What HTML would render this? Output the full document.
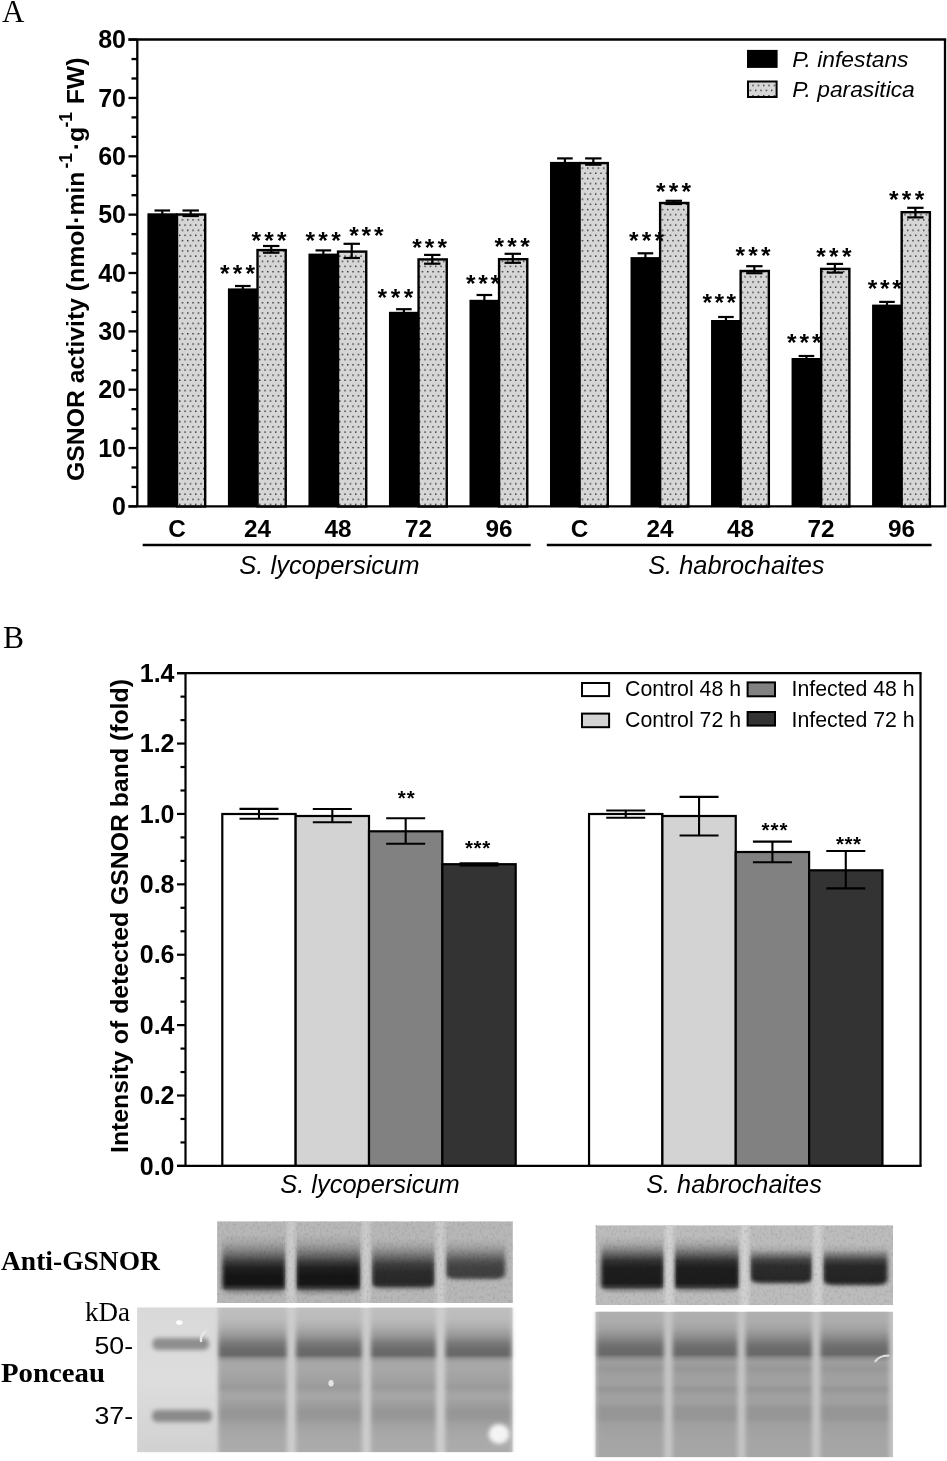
<!DOCTYPE html>
<html><head><meta charset="utf-8"><title>GSNOR figure</title>
<style>
html,body{margin:0;padding:0;background:#fff;}
svg{display:block;will-change:transform;}

</style></head><body>
<svg width="947" height="1461" viewBox="0 0 947 1461">
<defs>
<pattern id="dots" patternUnits="userSpaceOnUse" x="181.7" y="219.2" width="5.333" height="10.35"><rect width="5.333" height="10.35" fill="#d6d6d6"/><rect x="0" y="0" width="1.4" height="1.4" fill="#2a2a2a"/><rect x="2.667" y="5.175" width="1.4" height="1.4" fill="#2a2a2a"/></pattern>
</defs>
<text x="2" y="21.6" font-family="&apos;Liberation Serif&apos;, serif" font-size="31">A</text>
<text transform="translate(84,481) rotate(-90)" font-family="&apos;Liberation Sans&apos;, sans-serif" font-weight="bold" font-size="24.75"><tspan x="0" y="0">GSNOR activity (nmol·min</tspan><tspan x="312.55" y="-11.7" font-size="17.5">-1</tspan><tspan x="330.75" y="0">·g</tspan><tspan x="353.45" y="-11.7" font-size="17.5">-1</tspan><tspan x="376.75" y="0">FW)</tspan></text>
<g stroke="#000" stroke-width="2.3" fill="none">
<line x1="128.5" y1="39.5" x2="946.2" y2="39.5"/>
<line x1="137.3" y1="39.5" x2="137.3" y2="506.4"/>
<line x1="945.0" y1="39.5" x2="945.0" y2="506.4"/>
<line x1="128.5" y1="506.4" x2="946.2" y2="506.4"/>
<line x1="128.5" y1="506.40" x2="137.3" y2="506.40"/>
<line x1="131.5" y1="486.95" x2="137.3" y2="486.95"/>
<line x1="131.5" y1="467.50" x2="137.3" y2="467.50"/>
<line x1="128.5" y1="448.05" x2="137.3" y2="448.05"/>
<line x1="131.5" y1="428.60" x2="137.3" y2="428.60"/>
<line x1="131.5" y1="409.15" x2="137.3" y2="409.15"/>
<line x1="128.5" y1="389.70" x2="137.3" y2="389.70"/>
<line x1="131.5" y1="370.25" x2="137.3" y2="370.25"/>
<line x1="131.5" y1="350.80" x2="137.3" y2="350.80"/>
<line x1="128.5" y1="331.35" x2="137.3" y2="331.35"/>
<line x1="131.5" y1="311.90" x2="137.3" y2="311.90"/>
<line x1="131.5" y1="292.45" x2="137.3" y2="292.45"/>
<line x1="128.5" y1="273.00" x2="137.3" y2="273.00"/>
<line x1="131.5" y1="253.55" x2="137.3" y2="253.55"/>
<line x1="131.5" y1="234.10" x2="137.3" y2="234.10"/>
<line x1="128.5" y1="214.65" x2="137.3" y2="214.65"/>
<line x1="131.5" y1="195.20" x2="137.3" y2="195.20"/>
<line x1="131.5" y1="175.75" x2="137.3" y2="175.75"/>
<line x1="128.5" y1="156.30" x2="137.3" y2="156.30"/>
<line x1="131.5" y1="136.85" x2="137.3" y2="136.85"/>
<line x1="131.5" y1="117.40" x2="137.3" y2="117.40"/>
<line x1="128.5" y1="97.95" x2="137.3" y2="97.95"/>
<line x1="131.5" y1="78.50" x2="137.3" y2="78.50"/>
<line x1="131.5" y1="59.05" x2="137.3" y2="59.05"/>
<line x1="128.5" y1="39.60" x2="137.3" y2="39.60"/>
</g>
<text x="126" y="515.10" text-anchor="end" font-family="&apos;Liberation Sans&apos;, sans-serif" font-weight="bold" font-size="25">0</text>
<text x="126" y="456.75" text-anchor="end" font-family="&apos;Liberation Sans&apos;, sans-serif" font-weight="bold" font-size="25">10</text>
<text x="126" y="398.40" text-anchor="end" font-family="&apos;Liberation Sans&apos;, sans-serif" font-weight="bold" font-size="25">20</text>
<text x="126" y="340.05" text-anchor="end" font-family="&apos;Liberation Sans&apos;, sans-serif" font-weight="bold" font-size="25">30</text>
<text x="126" y="281.70" text-anchor="end" font-family="&apos;Liberation Sans&apos;, sans-serif" font-weight="bold" font-size="25">40</text>
<text x="126" y="223.35" text-anchor="end" font-family="&apos;Liberation Sans&apos;, sans-serif" font-weight="bold" font-size="25">50</text>
<text x="126" y="165.00" text-anchor="end" font-family="&apos;Liberation Sans&apos;, sans-serif" font-weight="bold" font-size="25">60</text>
<text x="126" y="106.65" text-anchor="end" font-family="&apos;Liberation Sans&apos;, sans-serif" font-weight="bold" font-size="25">70</text>
<text x="126" y="48.30" text-anchor="end" font-family="&apos;Liberation Sans&apos;, sans-serif" font-weight="bold" font-size="25">80</text>
<rect x="147.40" y="213.30" width="29.8" height="293.10" fill="#000"/>
<rect x="177.00" y="214.50" width="28.2" height="291.90" fill="url(#dots)" stroke="#000" stroke-width="2.4"/>
<g stroke="#000" stroke-width="2.2"><line x1="154.50" y1="210.50" x2="170.10" y2="210.50"/><line x1="162.30" y1="210.50" x2="162.30" y2="214.30"/></g>
<g stroke="#000" stroke-width="2.2"><line x1="182.50" y1="210.50" x2="198.90" y2="210.50"/><line x1="182.50" y1="216.00" x2="198.90" y2="216.00"/><line x1="190.70" y1="210.50" x2="190.70" y2="216.00"/></g>
<rect x="227.92" y="288.40" width="29.8" height="218.00" fill="#000"/>
<rect x="257.52" y="250.10" width="28.2" height="256.30" fill="url(#dots)" stroke="#000" stroke-width="2.4"/>
<g stroke="#000" stroke-width="2.2"><line x1="235.02" y1="286.00" x2="250.62" y2="286.00"/><line x1="242.82" y1="286.00" x2="242.82" y2="289.40"/></g>
<g stroke="#000" stroke-width="2.2"><line x1="263.02" y1="246.00" x2="279.42" y2="246.00"/><line x1="263.02" y1="252.70" x2="279.42" y2="252.70"/><line x1="271.22" y1="246.00" x2="271.22" y2="252.70"/></g>
<rect x="308.44" y="253.60" width="29.8" height="252.80" fill="#000"/>
<rect x="338.04" y="251.60" width="28.2" height="254.80" fill="url(#dots)" stroke="#000" stroke-width="2.4"/>
<g stroke="#000" stroke-width="2.2"><line x1="315.54" y1="250.40" x2="331.14" y2="250.40"/><line x1="323.34" y1="250.40" x2="323.34" y2="254.60"/></g>
<g stroke="#000" stroke-width="2.2"><line x1="343.54" y1="243.80" x2="359.94" y2="243.80"/><line x1="343.54" y1="258.00" x2="359.94" y2="258.00"/><line x1="351.74" y1="243.80" x2="351.74" y2="258.00"/></g>
<rect x="388.96" y="311.80" width="29.8" height="194.60" fill="#000"/>
<rect x="418.56" y="259.40" width="28.2" height="247.00" fill="url(#dots)" stroke="#000" stroke-width="2.4"/>
<g stroke="#000" stroke-width="2.2"><line x1="396.06" y1="309.20" x2="411.66" y2="309.20"/><line x1="403.86" y1="309.20" x2="403.86" y2="312.80"/></g>
<g stroke="#000" stroke-width="2.2"><line x1="424.06" y1="254.90" x2="440.46" y2="254.90"/><line x1="424.06" y1="263.70" x2="440.46" y2="263.70"/><line x1="432.26" y1="254.90" x2="432.26" y2="263.70"/></g>
<rect x="469.48" y="299.80" width="29.8" height="206.60" fill="#000"/>
<rect x="499.08" y="259.20" width="28.2" height="247.20" fill="url(#dots)" stroke="#000" stroke-width="2.4"/>
<g stroke="#000" stroke-width="2.2"><line x1="476.58" y1="295.00" x2="492.18" y2="295.00"/><line x1="484.38" y1="295.00" x2="484.38" y2="300.80"/></g>
<g stroke="#000" stroke-width="2.2"><line x1="504.58" y1="253.80" x2="520.98" y2="253.80"/><line x1="504.58" y1="262.80" x2="520.98" y2="262.80"/><line x1="512.78" y1="253.80" x2="512.78" y2="262.80"/></g>
<rect x="550.00" y="161.90" width="29.8" height="344.50" fill="#000"/>
<rect x="579.60" y="163.10" width="28.2" height="343.30" fill="url(#dots)" stroke="#000" stroke-width="2.4"/>
<g stroke="#000" stroke-width="2.2"><line x1="557.10" y1="158.40" x2="572.70" y2="158.40"/><line x1="564.90" y1="158.40" x2="564.90" y2="162.90"/></g>
<g stroke="#000" stroke-width="2.2"><line x1="585.10" y1="158.40" x2="601.50" y2="158.40"/><line x1="585.10" y1="164.70" x2="601.50" y2="164.70"/><line x1="593.30" y1="158.40" x2="593.30" y2="164.70"/></g>
<rect x="630.52" y="257.10" width="29.8" height="249.30" fill="#000"/>
<rect x="660.12" y="203.00" width="28.2" height="303.40" fill="url(#dots)" stroke="#000" stroke-width="2.4"/>
<g stroke="#000" stroke-width="2.2"><line x1="637.62" y1="253.30" x2="653.22" y2="253.30"/><line x1="645.42" y1="253.30" x2="645.42" y2="258.10"/></g>
<g stroke="#000" stroke-width="2.2"><line x1="665.62" y1="200.80" x2="682.02" y2="200.80"/><line x1="665.62" y1="204.00" x2="682.02" y2="204.00"/><line x1="673.82" y1="200.80" x2="673.82" y2="204.00"/></g>
<rect x="711.04" y="320.00" width="29.8" height="186.40" fill="#000"/>
<rect x="740.64" y="271.00" width="28.2" height="235.40" fill="url(#dots)" stroke="#000" stroke-width="2.4"/>
<g stroke="#000" stroke-width="2.2"><line x1="718.14" y1="317.00" x2="733.74" y2="317.00"/><line x1="725.94" y1="317.00" x2="725.94" y2="321.00"/></g>
<g stroke="#000" stroke-width="2.2"><line x1="746.14" y1="266.20" x2="762.54" y2="266.20"/><line x1="746.14" y1="273.20" x2="762.54" y2="273.20"/><line x1="754.34" y1="266.20" x2="754.34" y2="273.20"/></g>
<rect x="791.56" y="358.00" width="29.8" height="148.40" fill="#000"/>
<rect x="821.16" y="268.90" width="28.2" height="237.50" fill="url(#dots)" stroke="#000" stroke-width="2.4"/>
<g stroke="#000" stroke-width="2.2"><line x1="798.66" y1="356.00" x2="814.26" y2="356.00"/><line x1="806.46" y1="356.00" x2="806.46" y2="359.00"/></g>
<g stroke="#000" stroke-width="2.2"><line x1="826.66" y1="263.90" x2="843.06" y2="263.90"/><line x1="826.66" y1="272.60" x2="843.06" y2="272.60"/><line x1="834.86" y1="263.90" x2="834.86" y2="272.60"/></g>
<rect x="872.08" y="304.60" width="29.8" height="201.80" fill="#000"/>
<rect x="901.68" y="212.20" width="28.2" height="294.20" fill="url(#dots)" stroke="#000" stroke-width="2.4"/>
<g stroke="#000" stroke-width="2.2"><line x1="879.18" y1="301.90" x2="894.78" y2="301.90"/><line x1="886.98" y1="301.90" x2="886.98" y2="305.60"/></g>
<g stroke="#000" stroke-width="2.2"><line x1="907.18" y1="207.80" x2="923.58" y2="207.80"/><line x1="907.18" y1="217.40" x2="923.58" y2="217.40"/><line x1="915.38" y1="207.80" x2="915.38" y2="217.40"/></g>
<text x="220.00 232.72 245.44" y="282.10" font-family="&apos;Liberation Sans&apos;, sans-serif" font-weight="bold" font-size="24.5">***</text>
<text x="305.50 318.32 331.14" y="248.71" font-family="&apos;Liberation Sans&apos;, sans-serif" font-weight="bold" font-size="24.5">***</text>
<text x="377.60 390.67 403.75" y="305.90" font-family="&apos;Liberation Sans&apos;, sans-serif" font-weight="bold" font-size="24.5">***</text>
<text x="466.00 478.22 490.44" y="291.90" font-family="&apos;Liberation Sans&apos;, sans-serif" font-weight="bold" font-size="24.5">***</text>
<text x="629.00 641.72 654.45" y="248.71" font-family="&apos;Liberation Sans&apos;, sans-serif" font-weight="bold" font-size="24.5">***</text>
<text x="702.40 714.47 726.55" y="311.40" font-family="&apos;Liberation Sans&apos;, sans-serif" font-weight="bold" font-size="24.5">***</text>
<text x="787.00 799.52 812.05" y="350.50" font-family="&apos;Liberation Sans&apos;, sans-serif" font-weight="bold" font-size="24.5">***</text>
<text x="867.70 879.92 892.15" y="297.10" font-family="&apos;Liberation Sans&apos;, sans-serif" font-weight="bold" font-size="24.5">***</text>
<text x="251.40 264.17 276.94" y="248.71" font-family="&apos;Liberation Sans&apos;, sans-serif" font-weight="bold" font-size="24.5">***</text>
<text x="349.30 361.62 373.94" y="243.50" font-family="&apos;Liberation Sans&apos;, sans-serif" font-weight="bold" font-size="24.5">***</text>
<text x="412.20 424.82 437.44" y="255.50" font-family="&apos;Liberation Sans&apos;, sans-serif" font-weight="bold" font-size="24.5">***</text>
<text x="494.50 507.32 520.15" y="254.91" font-family="&apos;Liberation Sans&apos;, sans-serif" font-weight="bold" font-size="24.5">***</text>
<text x="656.00 668.72 681.45" y="199.71" font-family="&apos;Liberation Sans&apos;, sans-serif" font-weight="bold" font-size="24.5">***</text>
<text x="735.50 748.27 761.05" y="263.50" font-family="&apos;Liberation Sans&apos;, sans-serif" font-weight="bold" font-size="24.5">***</text>
<text x="816.20 829.07 841.95" y="265.00" font-family="&apos;Liberation Sans&apos;, sans-serif" font-weight="bold" font-size="24.5">***</text>
<text x="889.00 901.87 914.75" y="208.41" font-family="&apos;Liberation Sans&apos;, sans-serif" font-weight="bold" font-size="24.5">***</text>
<text x="176.90" y="537" text-anchor="middle" font-family="&apos;Liberation Sans&apos;, sans-serif" font-weight="bold" font-size="24.3">C</text>
<text x="257.42" y="537" text-anchor="middle" font-family="&apos;Liberation Sans&apos;, sans-serif" font-weight="bold" font-size="24.3">24</text>
<text x="337.94" y="537" text-anchor="middle" font-family="&apos;Liberation Sans&apos;, sans-serif" font-weight="bold" font-size="24.3">48</text>
<text x="418.46" y="537" text-anchor="middle" font-family="&apos;Liberation Sans&apos;, sans-serif" font-weight="bold" font-size="24.3">72</text>
<text x="498.98" y="537" text-anchor="middle" font-family="&apos;Liberation Sans&apos;, sans-serif" font-weight="bold" font-size="24.3">96</text>
<text x="579.50" y="537" text-anchor="middle" font-family="&apos;Liberation Sans&apos;, sans-serif" font-weight="bold" font-size="24.3">C</text>
<text x="660.02" y="537" text-anchor="middle" font-family="&apos;Liberation Sans&apos;, sans-serif" font-weight="bold" font-size="24.3">24</text>
<text x="740.54" y="537" text-anchor="middle" font-family="&apos;Liberation Sans&apos;, sans-serif" font-weight="bold" font-size="24.3">48</text>
<text x="821.06" y="537" text-anchor="middle" font-family="&apos;Liberation Sans&apos;, sans-serif" font-weight="bold" font-size="24.3">72</text>
<text x="901.58" y="537" text-anchor="middle" font-family="&apos;Liberation Sans&apos;, sans-serif" font-weight="bold" font-size="24.3">96</text>
<g stroke="#000" stroke-width="2.4"><line x1="142.7" y1="545" x2="530.7" y2="545"/><line x1="546.8" y1="545" x2="931.6" y2="545"/></g>
<text x="239.3" y="574" font-family="&apos;Liberation Sans&apos;, sans-serif" font-style="italic" font-size="25" textLength="180.3" lengthAdjust="spacingAndGlyphs">S. lycopersicum</text>
<text x="648.2" y="574" font-family="&apos;Liberation Sans&apos;, sans-serif" font-style="italic" font-size="25" textLength="176.3" lengthAdjust="spacingAndGlyphs">S. habrochaites</text>
<rect x="747" y="49.9" width="30.6" height="18" fill="#000"/>
<rect x="748" y="81.5" width="28.6" height="15.5" fill="url(#dots)" stroke="#000" stroke-width="2"/>
<text x="792.3" y="67.2" font-family="&apos;Liberation Sans&apos;, sans-serif" font-style="italic" font-size="22.8">P. infestans</text>
<text x="792.3" y="97.2" font-family="&apos;Liberation Sans&apos;, sans-serif" font-style="italic" font-size="22.8">P. parasitica</text>
<text x="3" y="648" font-family="&apos;Liberation Serif&apos;, serif" font-size="31.5">B</text>
<text transform="translate(127.6,1153) rotate(-90)" font-family="&apos;Liberation Sans&apos;, sans-serif" font-weight="bold" font-size="24.8">Intensity of detected GSNOR band (fold)</text>
<rect x="222.30" y="814.00" width="73.35" height="351.90" fill="#ffffff" stroke="#000" stroke-width="2.2"/>
<rect x="295.65" y="816.00" width="73.35" height="349.90" fill="#d3d3d3" stroke="#000" stroke-width="2.2"/>
<rect x="369.00" y="831.30" width="73.35" height="334.60" fill="#818181" stroke="#000" stroke-width="2.2"/>
<rect x="442.35" y="864.20" width="73.35" height="301.70" fill="#333333" stroke="#000" stroke-width="2.2"/>
<rect x="589.05" y="814.00" width="73.35" height="351.90" fill="#ffffff" stroke="#000" stroke-width="2.2"/>
<rect x="662.40" y="816.00" width="73.35" height="349.90" fill="#d3d3d3" stroke="#000" stroke-width="2.2"/>
<rect x="735.75" y="852.00" width="73.35" height="313.90" fill="#818181" stroke="#000" stroke-width="2.2"/>
<rect x="809.10" y="870.30" width="73.35" height="295.60" fill="#333333" stroke="#000" stroke-width="2.2"/>
<g stroke="#000" stroke-width="2.1"><line x1="239.48" y1="808.9" x2="278.48" y2="808.9"/><line x1="239.48" y1="818.7" x2="278.48" y2="818.7"/><line x1="258.98" y1="808.9" x2="258.98" y2="818.7"/></g>
<g stroke="#000" stroke-width="2.1"><line x1="312.82" y1="809" x2="351.82" y2="809"/><line x1="312.82" y1="822.3" x2="351.82" y2="822.3"/><line x1="332.32" y1="809" x2="332.32" y2="822.3"/></g>
<g stroke="#000" stroke-width="2.1"><line x1="386.18" y1="818.2" x2="425.18" y2="818.2"/><line x1="386.18" y1="843.7" x2="425.18" y2="843.7"/><line x1="405.68" y1="818.2" x2="405.68" y2="843.7"/></g>
<g stroke="#000" stroke-width="2.1"><line x1="459.53" y1="863.3" x2="498.53" y2="863.3"/><line x1="459.53" y1="865.5" x2="498.53" y2="865.5"/><line x1="479.03" y1="863.3" x2="479.03" y2="865.5"/></g>
<g stroke="#000" stroke-width="2.1"><line x1="606.22" y1="810.5" x2="645.22" y2="810.5"/><line x1="606.22" y1="817.7" x2="645.22" y2="817.7"/><line x1="625.72" y1="810.5" x2="625.72" y2="817.7"/></g>
<g stroke="#000" stroke-width="2.1"><line x1="679.57" y1="796.9" x2="718.57" y2="796.9"/><line x1="679.57" y1="835.5" x2="718.57" y2="835.5"/><line x1="699.07" y1="796.9" x2="699.07" y2="835.5"/></g>
<g stroke="#000" stroke-width="2.1"><line x1="752.92" y1="841.6" x2="791.92" y2="841.6"/><line x1="752.92" y1="862.2" x2="791.92" y2="862.2"/><line x1="772.42" y1="841.6" x2="772.42" y2="862.2"/></g>
<g stroke="#000" stroke-width="2.1"><line x1="826.27" y1="851" x2="865.27" y2="851"/><line x1="826.27" y1="888.4" x2="865.27" y2="888.4"/><line x1="845.77" y1="851" x2="845.77" y2="888.4"/></g>
<g stroke="#000" stroke-width="2.2" fill="none">
<line x1="177" y1="673.17" x2="921.6" y2="673.17"/>
<line x1="185.5" y1="673.17" x2="185.5" y2="1165.9"/>
<line x1="920.5" y1="673.17" x2="920.5" y2="1165.9"/>
<line x1="177" y1="1165.9" x2="921.6" y2="1165.9"/>
<line x1="177" y1="1165.90" x2="185.5" y2="1165.90"/>
<line x1="180.5" y1="1142.44" x2="185.5" y2="1142.44"/>
<line x1="180.5" y1="1118.97" x2="185.5" y2="1118.97"/>
<line x1="177" y1="1095.51" x2="185.5" y2="1095.51"/>
<line x1="180.5" y1="1072.05" x2="185.5" y2="1072.05"/>
<line x1="180.5" y1="1048.58" x2="185.5" y2="1048.58"/>
<line x1="177" y1="1025.12" x2="185.5" y2="1025.12"/>
<line x1="180.5" y1="1001.66" x2="185.5" y2="1001.66"/>
<line x1="180.5" y1="978.19" x2="185.5" y2="978.19"/>
<line x1="177" y1="954.73" x2="185.5" y2="954.73"/>
<line x1="180.5" y1="931.27" x2="185.5" y2="931.27"/>
<line x1="180.5" y1="907.80" x2="185.5" y2="907.80"/>
<line x1="177" y1="884.34" x2="185.5" y2="884.34"/>
<line x1="180.5" y1="860.88" x2="185.5" y2="860.88"/>
<line x1="180.5" y1="837.41" x2="185.5" y2="837.41"/>
<line x1="177" y1="813.95" x2="185.5" y2="813.95"/>
<line x1="180.5" y1="790.49" x2="185.5" y2="790.49"/>
<line x1="180.5" y1="767.02" x2="185.5" y2="767.02"/>
<line x1="177" y1="743.56" x2="185.5" y2="743.56"/>
<line x1="180.5" y1="720.10" x2="185.5" y2="720.10"/>
<line x1="180.5" y1="696.63" x2="185.5" y2="696.63"/>
<line x1="177" y1="673.17" x2="185.5" y2="673.17"/>
</g>
<text x="174.5" y="1174.60" text-anchor="end" font-family="&apos;Liberation Sans&apos;, sans-serif" font-weight="bold" font-size="25">0.0</text>
<text x="174.5" y="1104.21" text-anchor="end" font-family="&apos;Liberation Sans&apos;, sans-serif" font-weight="bold" font-size="25">0.2</text>
<text x="174.5" y="1033.82" text-anchor="end" font-family="&apos;Liberation Sans&apos;, sans-serif" font-weight="bold" font-size="25">0.4</text>
<text x="174.5" y="963.43" text-anchor="end" font-family="&apos;Liberation Sans&apos;, sans-serif" font-weight="bold" font-size="25">0.6</text>
<text x="174.5" y="893.04" text-anchor="end" font-family="&apos;Liberation Sans&apos;, sans-serif" font-weight="bold" font-size="25">0.8</text>
<text x="174.5" y="822.65" text-anchor="end" font-family="&apos;Liberation Sans&apos;, sans-serif" font-weight="bold" font-size="25">1.0</text>
<text x="174.5" y="752.26" text-anchor="end" font-family="&apos;Liberation Sans&apos;, sans-serif" font-weight="bold" font-size="25">1.2</text>
<text x="174.5" y="681.87" text-anchor="end" font-family="&apos;Liberation Sans&apos;, sans-serif" font-weight="bold" font-size="25">1.4</text>
<text x="397.70 406.81" y="805.14" font-family="&apos;Liberation Sans&apos;, sans-serif" font-weight="bold" font-size="20.5">**</text>
<text x="465.00 473.60 482.20" y="854.85" font-family="&apos;Liberation Sans&apos;, sans-serif" font-weight="bold" font-size="20.5">***</text>
<text x="761.40 770.45 779.50" y="836.75" font-family="&apos;Liberation Sans&apos;, sans-serif" font-weight="bold" font-size="20.5">***</text>
<text x="835.90 844.45 853.00" y="850.75" font-family="&apos;Liberation Sans&apos;, sans-serif" font-weight="bold" font-size="20.5">***</text>
<g stroke="#000" stroke-width="2">
<rect x="582" y="683" width="27.1" height="13.1" fill="#fff"/>
<rect x="582" y="713.6" width="27.1" height="13.6" fill="#d3d3d3"/>
<rect x="747.6" y="682.4" width="27.4" height="13.9" fill="#818181"/>
<rect x="747.6" y="712" width="27.4" height="13.6" fill="#333333"/>
</g>
<text x="625" y="696.3" font-family="&apos;Liberation Sans&apos;, sans-serif" font-size="21.3">Control 48 h</text>
<text x="625" y="726.8" font-family="&apos;Liberation Sans&apos;, sans-serif" font-size="21.3">Control 72 h</text>
<text x="791.5" y="696.3" font-family="&apos;Liberation Sans&apos;, sans-serif" font-size="21.3">Infected 48 h</text>
<text x="791.5" y="726.8" font-family="&apos;Liberation Sans&apos;, sans-serif" font-size="21.3">Infected 72 h</text>
<text x="280.2" y="1192.8" font-family="&apos;Liberation Sans&apos;, sans-serif" font-style="italic" font-size="25" textLength="179.6" lengthAdjust="spacingAndGlyphs">S. lycopersicum</text>
<text x="646.2" y="1192.8" font-family="&apos;Liberation Sans&apos;, sans-serif" font-style="italic" font-size="25" textLength="175.6" lengthAdjust="spacingAndGlyphs">S. habrochaites</text>
<defs>
<filter id="bx" x="-10%" y="-10%" width="120%" height="120%"><feGaussianBlur stdDeviation="1.8 0.6"/></filter>
<filter id="bx2" x="-20%" y="-10%" width="140%" height="120%"><feGaussianBlur stdDeviation="2.2 0.5"/></filter>
<filter id="b05" x="-20%" y="-50%" width="140%" height="200%"><feGaussianBlur stdDeviation="0.7"/></filter>
<filter id="mb" x="-20%" y="-20%" width="140%" height="140%"><feGaussianBlur stdDeviation="2.2"/></filter>
<filter id="b2" x="-20%" y="-50%" width="140%" height="200%"><feGaussianBlur stdDeviation="2"/></filter>
<filter id="noise" x="0" y="0" width="100%" height="100%"><feTurbulence type="fractalNoise" baseFrequency="0.45 0.3" numOctaves="2" seed="3"/><feColorMatrix type="matrix" values="0 0 0 0 0  0 0 0 0 0  0 0 0 0 0  0 0 0 -1.2 0.62"/><feGaussianBlur stdDeviation="0.6"/></filter>
</defs>
<rect x="217.1" y="1221.4" width="295.7" height="81.6" fill="#b7b7b7"/>
<linearGradient id="g1" gradientUnits="userSpaceOnUse" x1="0" y1="1234" x2="0" y2="1299"><stop offset="0.0000" stop-color="#b7b7b7"/><stop offset="0.1385" stop-color="#a5a5a5"/><stop offset="0.2462" stop-color="#878787"/><stop offset="0.3385" stop-color="#646464"/><stop offset="0.4308" stop-color="#3c3c3c"/><stop offset="0.5231" stop-color="#202020"/><stop offset="0.6615" stop-color="#141414"/><stop offset="0.7692" stop-color="#161616"/><stop offset="0.8308" stop-color="#3c3c3c"/><stop offset="0.8846" stop-color="#8c8c8c"/><stop offset="0.9492" stop-color="#acacac"/><stop offset="1.0000" stop-color="#b7b7b7"/></linearGradient>
<mask id="m2" maskUnits="userSpaceOnUse" x="213.8" y="1226" width="80.2" height="81"><rect x="222.3" y="1224" width="63.2" height="72" rx="12" ry="8" fill="#fff" filter="url(#mb)"/></mask>
<rect x="215.8" y="1234" width="76.2" height="65" fill="url(#g1)" mask="url(#m2)"/>
<linearGradient id="g3" gradientUnits="userSpaceOnUse" x1="0" y1="1234" x2="0" y2="1299"><stop offset="0.0000" stop-color="#b7b7b7"/><stop offset="0.1385" stop-color="#a5a5a5"/><stop offset="0.2462" stop-color="#878787"/><stop offset="0.3385" stop-color="#646464"/><stop offset="0.4308" stop-color="#3c3c3c"/><stop offset="0.5231" stop-color="#202020"/><stop offset="0.6615" stop-color="#151515"/><stop offset="0.7692" stop-color="#171717"/><stop offset="0.8308" stop-color="#3c3c3c"/><stop offset="0.8846" stop-color="#8c8c8c"/><stop offset="0.9492" stop-color="#acacac"/><stop offset="1.0000" stop-color="#b7b7b7"/></linearGradient>
<mask id="m4" maskUnits="userSpaceOnUse" x="287.3" y="1226" width="81.9" height="81"><rect x="295.8" y="1224" width="64.9" height="72" rx="12" ry="8" fill="#fff" filter="url(#mb)"/></mask>
<rect x="289.3" y="1234" width="77.9" height="65" fill="url(#g3)" mask="url(#m4)"/>
<linearGradient id="g5" gradientUnits="userSpaceOnUse" x1="0" y1="1238" x2="0" y2="1294"><stop offset="0.0000" stop-color="#b7b7b7"/><stop offset="0.1250" stop-color="#a8a8a8"/><stop offset="0.2500" stop-color="#888888"/><stop offset="0.3571" stop-color="#646464"/><stop offset="0.4643" stop-color="#404040"/><stop offset="0.6071" stop-color="#2c2c2c"/><stop offset="0.7857" stop-color="#282828"/><stop offset="0.8393" stop-color="#343434"/><stop offset="0.8929" stop-color="#767676"/><stop offset="0.9464" stop-color="#aaaaaa"/><stop offset="1.0000" stop-color="#b7b7b7"/></linearGradient>
<mask id="m6" maskUnits="userSpaceOnUse" x="363.5" y="1230" width="79.8" height="72"><rect x="372.0" y="1228" width="62.8" height="63" rx="12" ry="8" fill="#fff" filter="url(#mb)"/></mask>
<rect x="365.5" y="1238" width="75.8" height="56" fill="url(#g5)" mask="url(#m6)"/>
<linearGradient id="g7" gradientUnits="userSpaceOnUse" x1="0" y1="1238" x2="0" y2="1284"><stop offset="0.0000" stop-color="#b7b7b7"/><stop offset="0.1304" stop-color="#acacac"/><stop offset="0.2609" stop-color="#949494"/><stop offset="0.3696" stop-color="#787878"/><stop offset="0.4565" stop-color="#5f5f5f"/><stop offset="0.5435" stop-color="#4c4c4c"/><stop offset="0.6522" stop-color="#424242"/><stop offset="0.8043" stop-color="#404040"/><stop offset="0.8696" stop-color="#585858"/><stop offset="0.9348" stop-color="#969696"/><stop offset="1.0000" stop-color="#b7b7b7"/></linearGradient>
<mask id="m8" maskUnits="userSpaceOnUse" x="437.1" y="1230" width="76.6" height="62"><rect x="445.6" y="1228" width="59.6" height="53" rx="12" ry="8" fill="#fff" filter="url(#mb)"/></mask>
<rect x="439.1" y="1238" width="72.6" height="46" fill="url(#g7)" mask="url(#m8)"/>
<rect x="286.8" y="1221.4" width="8.5" height="81.6" fill="#cccccc" filter="url(#bx2)"/>
<rect x="361.8" y="1221.4" width="8.5" height="81.6" fill="#cccccc" filter="url(#bx2)"/>
<rect x="436.2" y="1221.4" width="8.5" height="81.6" fill="#cccccc" filter="url(#bx2)"/>
<rect x="595.7" y="1225.4" width="297.3" height="79.6" fill="#bcbcbc"/>
<linearGradient id="g9" gradientUnits="userSpaceOnUse" x1="0" y1="1236" x2="0" y2="1297"><stop offset="0.0000" stop-color="#bcbcbc"/><stop offset="0.1148" stop-color="#acacac"/><stop offset="0.2131" stop-color="#8c8c8c"/><stop offset="0.3115" stop-color="#5f5f5f"/><stop offset="0.4098" stop-color="#323232"/><stop offset="0.5246" stop-color="#1e1e1e"/><stop offset="0.7705" stop-color="#1c1c1c"/><stop offset="0.8361" stop-color="#3c3c3c"/><stop offset="0.8852" stop-color="#8c8c8c"/><stop offset="0.9508" stop-color="#b4b4b4"/><stop offset="1.0000" stop-color="#bcbcbc"/></linearGradient>
<mask id="m10" maskUnits="userSpaceOnUse" x="592.6" y="1228" width="79.9" height="77"><rect x="601.1" y="1226" width="62.9" height="68" rx="12" ry="8" fill="#fff" filter="url(#mb)"/></mask>
<rect x="594.6" y="1236" width="75.9" height="61" fill="url(#g9)" mask="url(#m10)"/>
<linearGradient id="g11" gradientUnits="userSpaceOnUse" x1="0" y1="1236" x2="0" y2="1297"><stop offset="0.0000" stop-color="#bcbcbc"/><stop offset="0.1148" stop-color="#acacac"/><stop offset="0.2131" stop-color="#8c8c8c"/><stop offset="0.3115" stop-color="#5f5f5f"/><stop offset="0.4098" stop-color="#323232"/><stop offset="0.5246" stop-color="#1e1e1e"/><stop offset="0.7705" stop-color="#1c1c1c"/><stop offset="0.8361" stop-color="#3c3c3c"/><stop offset="0.8852" stop-color="#8c8c8c"/><stop offset="0.9508" stop-color="#b4b4b4"/><stop offset="1.0000" stop-color="#bcbcbc"/></linearGradient>
<mask id="m12" maskUnits="userSpaceOnUse" x="665.5" y="1228" width="82.3" height="77"><rect x="674.0" y="1226" width="65.3" height="68" rx="12" ry="8" fill="#fff" filter="url(#mb)"/></mask>
<rect x="667.5" y="1236" width="78.3" height="61" fill="url(#g11)" mask="url(#m12)"/>
<linearGradient id="g13" gradientUnits="userSpaceOnUse" x1="0" y1="1244" x2="0" y2="1288"><stop offset="0.0000" stop-color="#bcbcbc"/><stop offset="0.1364" stop-color="#aaaaaa"/><stop offset="0.2500" stop-color="#787878"/><stop offset="0.3636" stop-color="#464646"/><stop offset="0.5000" stop-color="#2d2d2d"/><stop offset="0.7955" stop-color="#282828"/><stop offset="0.8636" stop-color="#464646"/><stop offset="0.9318" stop-color="#8c8c8c"/><stop offset="1.0000" stop-color="#bcbcbc"/></linearGradient>
<mask id="m14" maskUnits="userSpaceOnUse" x="741.8" y="1236" width="79.0" height="60"><rect x="750.3" y="1234" width="62.0" height="51" rx="12" ry="8" fill="#fff" filter="url(#mb)"/></mask>
<rect x="743.8" y="1244" width="75.0" height="44" fill="url(#g13)" mask="url(#m14)"/>
<linearGradient id="g15" gradientUnits="userSpaceOnUse" x1="0" y1="1244" x2="0" y2="1290"><stop offset="0.0000" stop-color="#bcbcbc"/><stop offset="0.1304" stop-color="#aaaaaa"/><stop offset="0.2391" stop-color="#787878"/><stop offset="0.3478" stop-color="#464646"/><stop offset="0.4783" stop-color="#282828"/><stop offset="0.8043" stop-color="#242424"/><stop offset="0.8696" stop-color="#464646"/><stop offset="0.9348" stop-color="#8c8c8c"/><stop offset="1.0000" stop-color="#bcbcbc"/></linearGradient>
<mask id="m16" maskUnits="userSpaceOnUse" x="814.6" y="1236" width="81.4" height="62"><rect x="823.1" y="1234" width="64.4" height="53" rx="12" ry="8" fill="#fff" filter="url(#mb)"/></mask>
<rect x="816.6" y="1244" width="77.4" height="46" fill="url(#g15)" mask="url(#m16)"/>
<rect x="665.0" y="1225.4" width="8.5" height="79.6" fill="#d2d2d2" filter="url(#bx2)"/>
<rect x="740.3" y="1225.4" width="8.5" height="79.6" fill="#d2d2d2" filter="url(#bx2)"/>
<rect x="813.3" y="1225.4" width="8.5" height="79.6" fill="#d2d2d2" filter="url(#bx2)"/>
<rect x="137.4" y="1307.7" width="375.1" height="144.4" fill="#cdcdcd"/>
<linearGradient id="g17" gradientUnits="userSpaceOnUse" x1="0" y1="1307.7" x2="0" y2="1452"><stop offset="0.0000" stop-color="#d9d9d9"/><stop offset="0.5010" stop-color="#dddddd"/><stop offset="1.0000" stop-color="#d1d1d1"/></linearGradient>
<rect x="137.4" y="1307.7" width="80.5" height="144.4" fill="url(#g17)"/>
<rect x="152.5" y="1338" width="56.5" height="12" rx="5" fill="#8e8e8e" filter="url(#b2)"/>
<rect x="152" y="1410" width="60" height="12" rx="5" fill="#8a8a8a" filter="url(#b2)"/>
<ellipse cx="179.3" cy="1322.5" rx="3.2" ry="2.3" fill="#fdfdfd" filter="url(#b05)"/>
<linearGradient id="g18" gradientUnits="userSpaceOnUse" x1="0" y1="1307.7" x2="0" y2="1452.1"><stop offset="0.0000" stop-color="#c0c0c0"/><stop offset="0.0852" stop-color="#bababa"/><stop offset="0.1406" stop-color="#acacac"/><stop offset="0.1960" stop-color="#969696"/><stop offset="0.2445" stop-color="#7a7a7a"/><stop offset="0.2860" stop-color="#6b6b6b"/><stop offset="0.3276" stop-color="#696969"/><stop offset="0.3518" stop-color="#919191"/><stop offset="0.3760" stop-color="#a5a5a5"/><stop offset="0.4176" stop-color="#a8a8a8"/><stop offset="0.5076" stop-color="#a1a1a1"/><stop offset="0.5492" stop-color="#9a9a9a"/><stop offset="0.5907" stop-color="#a4a4a4"/><stop offset="0.6253" stop-color="#a6a6a6"/><stop offset="0.6669" stop-color="#9e9e9e"/><stop offset="0.7223" stop-color="#969696"/><stop offset="0.7639" stop-color="#989898"/><stop offset="0.8123" stop-color="#a2a2a2"/><stop offset="0.8816" stop-color="#a8a8a8"/><stop offset="1.0000" stop-color="#acacac"/></linearGradient>
<rect x="218.5" y="1307.7" width="68.3" height="144.4" fill="url(#g18)" filter="url(#bx2)"/>
<linearGradient id="g19" gradientUnits="userSpaceOnUse" x1="0" y1="1307.7" x2="0" y2="1452.1"><stop offset="0.0000" stop-color="#c0c0c0"/><stop offset="0.0852" stop-color="#bababa"/><stop offset="0.1406" stop-color="#acacac"/><stop offset="0.1960" stop-color="#969696"/><stop offset="0.2445" stop-color="#7a7a7a"/><stop offset="0.2860" stop-color="#6b6b6b"/><stop offset="0.3276" stop-color="#696969"/><stop offset="0.3518" stop-color="#919191"/><stop offset="0.3760" stop-color="#a5a5a5"/><stop offset="0.4176" stop-color="#a8a8a8"/><stop offset="0.5076" stop-color="#a1a1a1"/><stop offset="0.5492" stop-color="#9a9a9a"/><stop offset="0.5907" stop-color="#a4a4a4"/><stop offset="0.6253" stop-color="#a6a6a6"/><stop offset="0.6669" stop-color="#9e9e9e"/><stop offset="0.7223" stop-color="#969696"/><stop offset="0.7639" stop-color="#989898"/><stop offset="0.8123" stop-color="#a2a2a2"/><stop offset="0.8816" stop-color="#a8a8a8"/><stop offset="1.0000" stop-color="#acacac"/></linearGradient>
<rect x="295.8" y="1307.7" width="66.2" height="144.4" fill="url(#g19)" filter="url(#bx2)"/>
<linearGradient id="g20" gradientUnits="userSpaceOnUse" x1="0" y1="1307.7" x2="0" y2="1452.1"><stop offset="0.0000" stop-color="#c0c0c0"/><stop offset="0.0852" stop-color="#bababa"/><stop offset="0.1406" stop-color="#acacac"/><stop offset="0.1960" stop-color="#969696"/><stop offset="0.2445" stop-color="#7a7a7a"/><stop offset="0.2860" stop-color="#6b6b6b"/><stop offset="0.3276" stop-color="#696969"/><stop offset="0.3518" stop-color="#919191"/><stop offset="0.3760" stop-color="#a5a5a5"/><stop offset="0.4176" stop-color="#a8a8a8"/><stop offset="0.5076" stop-color="#a1a1a1"/><stop offset="0.5492" stop-color="#9a9a9a"/><stop offset="0.5907" stop-color="#a4a4a4"/><stop offset="0.6253" stop-color="#a6a6a6"/><stop offset="0.6669" stop-color="#9e9e9e"/><stop offset="0.7223" stop-color="#969696"/><stop offset="0.7639" stop-color="#989898"/><stop offset="0.8123" stop-color="#a2a2a2"/><stop offset="0.8816" stop-color="#a8a8a8"/><stop offset="1.0000" stop-color="#acacac"/></linearGradient>
<rect x="370.8" y="1307.7" width="65.2" height="144.4" fill="url(#g20)" filter="url(#bx2)"/>
<linearGradient id="g21" gradientUnits="userSpaceOnUse" x1="0" y1="1307.7" x2="0" y2="1452.1"><stop offset="0.0000" stop-color="#c0c0c0"/><stop offset="0.0852" stop-color="#bababa"/><stop offset="0.1406" stop-color="#acacac"/><stop offset="0.1960" stop-color="#969696"/><stop offset="0.2445" stop-color="#7a7a7a"/><stop offset="0.2860" stop-color="#6b6b6b"/><stop offset="0.3276" stop-color="#696969"/><stop offset="0.3518" stop-color="#919191"/><stop offset="0.3760" stop-color="#a5a5a5"/><stop offset="0.4176" stop-color="#a8a8a8"/><stop offset="0.5076" stop-color="#a1a1a1"/><stop offset="0.5492" stop-color="#9a9a9a"/><stop offset="0.5907" stop-color="#a4a4a4"/><stop offset="0.6253" stop-color="#a6a6a6"/><stop offset="0.6669" stop-color="#9e9e9e"/><stop offset="0.7223" stop-color="#969696"/><stop offset="0.7639" stop-color="#989898"/><stop offset="0.8123" stop-color="#a2a2a2"/><stop offset="0.8816" stop-color="#a8a8a8"/><stop offset="1.0000" stop-color="#acacac"/></linearGradient>
<rect x="445.2" y="1307.7" width="66.3" height="144.4" fill="url(#g21)" filter="url(#bx2)"/>
<ellipse cx="499" cy="1434" rx="10.5" ry="10" fill="#f4f4f4" filter="url(#b2)"/>
<ellipse cx="331" cy="1383.3" rx="2.6" ry="3.2" fill="#e4e4e4" filter="url(#b05)"/>
<rect x="595.7" y="1311.8" width="297.3" height="145.3" fill="#c4c4c4"/>
<linearGradient id="g22" gradientUnits="userSpaceOnUse" x1="0" y1="1311.8" x2="0" y2="1457.1"><stop offset="0.0000" stop-color="#b0b0b0"/><stop offset="0.0702" stop-color="#acacac"/><stop offset="0.1253" stop-color="#a0a0a0"/><stop offset="0.1734" stop-color="#8c8c8c"/><stop offset="0.2216" stop-color="#747474"/><stop offset="0.2560" stop-color="#6b6b6b"/><stop offset="0.2939" stop-color="#6b6b6b"/><stop offset="0.3180" stop-color="#8c8c8c"/><stop offset="0.3455" stop-color="#9e9e9e"/><stop offset="0.3937" stop-color="#989898"/><stop offset="0.4418" stop-color="#a0a0a0"/><stop offset="0.4969" stop-color="#a0a0a0"/><stop offset="0.5313" stop-color="#969696"/><stop offset="0.5795" stop-color="#a0a0a0"/><stop offset="0.6277" stop-color="#a0a0a0"/><stop offset="0.6621" stop-color="#969696"/><stop offset="0.7309" stop-color="#969696"/><stop offset="0.7722" stop-color="#a0a0a0"/><stop offset="0.8823" stop-color="#a5a5a5"/><stop offset="1.0000" stop-color="#a6a6a6"/></linearGradient>
<rect x="596.5" y="1311.8" width="67.5" height="145.3" fill="url(#g22)" filter="url(#bx2)"/>
<linearGradient id="g23" gradientUnits="userSpaceOnUse" x1="0" y1="1311.8" x2="0" y2="1457.1"><stop offset="0.0000" stop-color="#b0b0b0"/><stop offset="0.0702" stop-color="#acacac"/><stop offset="0.1253" stop-color="#a0a0a0"/><stop offset="0.1734" stop-color="#8c8c8c"/><stop offset="0.2216" stop-color="#747474"/><stop offset="0.2560" stop-color="#6b6b6b"/><stop offset="0.2939" stop-color="#6b6b6b"/><stop offset="0.3180" stop-color="#8c8c8c"/><stop offset="0.3455" stop-color="#9e9e9e"/><stop offset="0.3937" stop-color="#989898"/><stop offset="0.4418" stop-color="#a0a0a0"/><stop offset="0.4969" stop-color="#a0a0a0"/><stop offset="0.5313" stop-color="#969696"/><stop offset="0.5795" stop-color="#a0a0a0"/><stop offset="0.6277" stop-color="#a0a0a0"/><stop offset="0.6621" stop-color="#969696"/><stop offset="0.7309" stop-color="#969696"/><stop offset="0.7722" stop-color="#a0a0a0"/><stop offset="0.8823" stop-color="#a5a5a5"/><stop offset="1.0000" stop-color="#a6a6a6"/></linearGradient>
<rect x="672.6" y="1311.8" width="64.9" height="145.3" fill="url(#g23)" filter="url(#bx2)"/>
<linearGradient id="g24" gradientUnits="userSpaceOnUse" x1="0" y1="1311.8" x2="0" y2="1457.1"><stop offset="0.0000" stop-color="#b0b0b0"/><stop offset="0.0702" stop-color="#acacac"/><stop offset="0.1253" stop-color="#a0a0a0"/><stop offset="0.1734" stop-color="#8c8c8c"/><stop offset="0.2216" stop-color="#747474"/><stop offset="0.2560" stop-color="#6b6b6b"/><stop offset="0.2939" stop-color="#6b6b6b"/><stop offset="0.3180" stop-color="#8c8c8c"/><stop offset="0.3455" stop-color="#9e9e9e"/><stop offset="0.3937" stop-color="#989898"/><stop offset="0.4418" stop-color="#a0a0a0"/><stop offset="0.4969" stop-color="#a0a0a0"/><stop offset="0.5313" stop-color="#969696"/><stop offset="0.5795" stop-color="#a0a0a0"/><stop offset="0.6277" stop-color="#a0a0a0"/><stop offset="0.6621" stop-color="#969696"/><stop offset="0.7309" stop-color="#969696"/><stop offset="0.7722" stop-color="#a0a0a0"/><stop offset="0.8823" stop-color="#a5a5a5"/><stop offset="1.0000" stop-color="#a6a6a6"/></linearGradient>
<rect x="745.5" y="1311.8" width="66.5" height="145.3" fill="url(#g24)" filter="url(#bx2)"/>
<linearGradient id="g25" gradientUnits="userSpaceOnUse" x1="0" y1="1311.8" x2="0" y2="1457.1"><stop offset="0.0000" stop-color="#b0b0b0"/><stop offset="0.0702" stop-color="#acacac"/><stop offset="0.1253" stop-color="#a0a0a0"/><stop offset="0.1734" stop-color="#8c8c8c"/><stop offset="0.2216" stop-color="#747474"/><stop offset="0.2560" stop-color="#6b6b6b"/><stop offset="0.2939" stop-color="#6b6b6b"/><stop offset="0.3180" stop-color="#8c8c8c"/><stop offset="0.3455" stop-color="#9e9e9e"/><stop offset="0.3937" stop-color="#989898"/><stop offset="0.4418" stop-color="#a0a0a0"/><stop offset="0.4969" stop-color="#a0a0a0"/><stop offset="0.5313" stop-color="#969696"/><stop offset="0.5795" stop-color="#a0a0a0"/><stop offset="0.6277" stop-color="#a0a0a0"/><stop offset="0.6621" stop-color="#969696"/><stop offset="0.7309" stop-color="#969696"/><stop offset="0.7722" stop-color="#a0a0a0"/><stop offset="0.8823" stop-color="#a5a5a5"/><stop offset="1.0000" stop-color="#a6a6a6"/></linearGradient>
<rect x="820.4" y="1311.8" width="68.6" height="145.3" fill="url(#g25)" filter="url(#bx2)"/>
<path d="M875.3 1361.2 C879 1357 882 1355.5 888.5 1355.6" stroke="#dcdcdc" stroke-width="2.2" stroke-linecap="round" fill="none" filter="url(#b05)"/>
<path d="M201 1341 C200.5 1337.5 202 1334 205.5 1331.5" stroke="#e8e8e8" stroke-width="2.4" stroke-linecap="round" fill="none" filter="url(#b05)"/>
<rect x="217.1" y="1221.4" width="295.7" height="81.6" filter="url(#noise)" opacity="0.2"/>
<rect x="595.7" y="1225.4" width="297.3" height="79.6" filter="url(#noise)" opacity="0.2"/>
<text x="1" y="1269.6" font-family="&apos;Liberation Serif&apos;, serif" font-weight="bold" font-size="26.5" textLength="159" lengthAdjust="spacingAndGlyphs">Anti-GSNOR</text>
<text x="85" y="1320.8" font-family="&apos;Liberation Serif&apos;, serif" font-size="27">kDa</text>
<text x="94.5" y="1353.5" font-family="&apos;Liberation Sans&apos;, sans-serif" font-size="23.5" textLength="38.6" lengthAdjust="spacingAndGlyphs">50-</text>
<text x="1" y="1381.8" font-family="&apos;Liberation Serif&apos;, serif" font-weight="bold" font-size="27.5" textLength="104" lengthAdjust="spacingAndGlyphs">Ponceau</text>
<text x="94.5" y="1424" font-family="&apos;Liberation Sans&apos;, sans-serif" font-size="23.5" textLength="38.6" lengthAdjust="spacingAndGlyphs">37-</text>
</svg>
</body></html>
